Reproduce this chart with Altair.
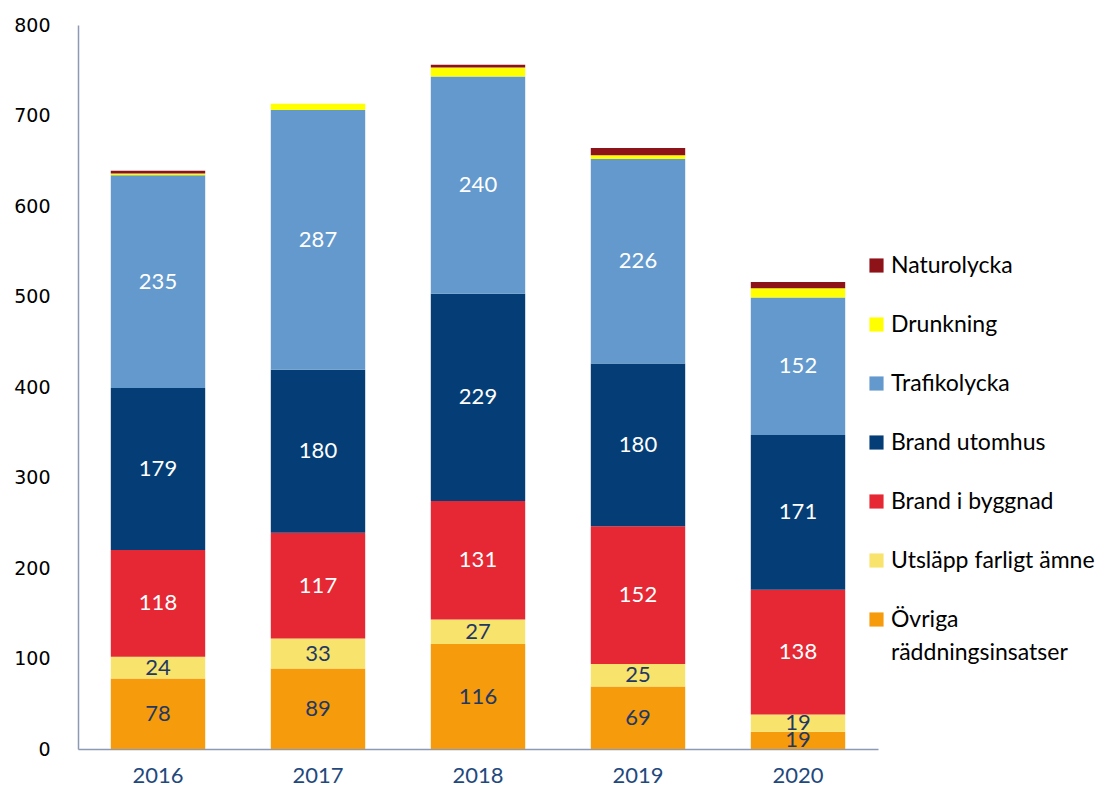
import altair as alt
import pandas as pd

years = ["2016", "2017", "2018", "2019", "2020"]
categories = ["Naturolycka", "Drunkning", "Trafikolycka", "Brand utomhus",
              "Brand i byggnad", "Utsläpp farligt ämne", "Övriga räddningsinsatser"]
colors = ["#8E1319", "#FFFF00", "#6399CC", "#053E76", "#E52834", "#F8E36C", "#F59B0C"]

ovriga = [78, 89, 116, 69, 19]
utslapp = [24, 33, 27, 25, 19]
brand_bygg = [118, 117, 131, 152, 138]
brand_ute = [179, 180, 229, 180, 171]
trafik = [235, 287, 240, 226, 152]
drunkning = [2, 7, 10, 4, 10]
natur = [3, 0, 3, 8, 7]

series = {
    "Övriga räddningsinsatser": ovriga,
    "Utsläpp farligt ämne": utslapp,
    "Brand i byggnad": brand_bygg,
    "Brand utomhus": brand_ute,
    "Trafikolycka": trafik,
    "Drunkning": drunkning,
    "Naturolycka": natur,
}
labelled = ["Övriga räddningsinsatser", "Utsläpp farligt ämne", "Brand i byggnad",
            "Brand utomhus", "Trafikolycka"]
dark = ["Brand i byggnad", "Brand utomhus", "Trafikolycka"]

rows = []
for order, (cat, vals) in enumerate(series.items()):
    for y, v in zip(years, vals):
        rows.append({"year": y, "cat": cat, "value": v, "ord": order,
                     "lab": cat in labelled, "dark": cat in dark})
df = pd.DataFrame(rows)

base = alt.Chart(df).transform_stack(
    stack="value", groupby=["year"], as_=["y0", "y1"],
    sort=[alt.SortField("ord", order="ascending")]
).transform_calculate(mid="(datum.y0 + datum.y1) / 2")

x = alt.X("year:N", title=None,
          scale=alt.Scale(paddingInner=0.41, paddingOuter=0.205),
          axis=alt.Axis(labelAngle=0, labelFont="Lato", labelFontSize=22,
                        labelColor="#1F497D", labelPadding=16, ticks=False, tickSize=0,
                        domainColor="#8C9AB4", domainWidth=1.5))

bars = base.mark_bar().encode(
    x=x,
    y=alt.Y("y0:Q", title=None, scale=alt.Scale(domain=[0, 800]),
            axis=alt.Axis(values=list(range(0, 801, 100)), grid=False, ticks=False, tickSize=0,
                          labelFont="DejaVu Sans", labelFontSize=19, labelColor="#000000",
                          labelPadding=28, domainColor="#8C9AB4", domainWidth=1.5)),
    y2="y1:Q",
    color=alt.Color("cat:N", scale=alt.Scale(domain=categories, range=colors),
                    sort=categories,
                    legend=alt.Legend(title=None, orient="none", legendX=787, legendY=229,
                                      padding=0,
                                      symbolType="square", symbolSize=200, symbolStrokeWidth=0,
                                      labelFont="Lato", labelFontSize=23, labelColor="#000000",
                                      labelOffset=3, labelLimit=400, rowPadding=35,
                                      labelExpr="datum.label == 'Övriga räddningsinsatser' ? ['Övriga', 'räddningsinsatser'] : datum.label")),
)

text = base.transform_filter("datum.lab").mark_text(
    font="Lato", fontSize=22, baseline="middle"
).encode(
    x=alt.X("year:N"),
    y=alt.Y("mid:Q"),
    text=alt.Text("value:Q"),
    color=alt.condition("datum.dark", alt.value("#FFFFFF"), alt.value("#1F3864")),
)

chart = alt.layer(bars, text).properties(
    width=800, height=724,
    autosize=alt.AutoSizeParams(type="none"),
    padding={"left": 70, "top": 17, "right": 225, "bottom": 39},
).configure(
    view={"stroke": None, "strokeWidth": 0},
    style={"guide-label": {"lineHeight": 33}},
)

chart.save("out.html", embed_options={"renderer": "svg", "actions": False})
